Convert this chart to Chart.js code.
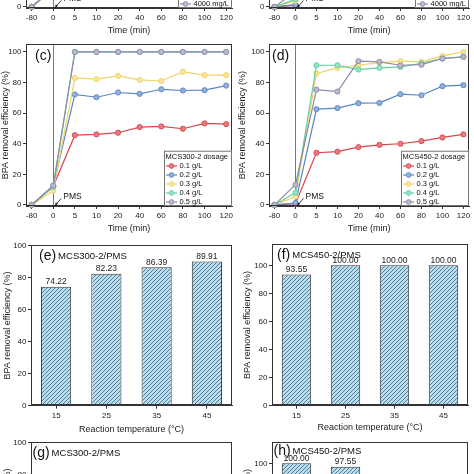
<!DOCTYPE html>
<html>
<head>
<meta charset="utf-8">
<script src="https://cdn.jsdelivr.net/npm/chart.js@4.4.1/dist/chart.umd.min.js"></script>
<style>
  html, body { margin: 0; padding: 0; background: #fff; overflow: hidden; }
  .panel { position: absolute; }
</style>
</head>
<body>
<div class="panel" style="left:0;top:-160.3px;width:237px;height:196px"><canvas id="chartA"></canvas></div>
<div class="panel" style="left:237px;top:-160.3px;width:237px;height:196px"><canvas id="chartB"></canvas></div>
<div class="panel" style="left:0;top:38px;width:237px;height:196px"><canvas id="chartC"></canvas></div>
<div class="panel" style="left:237px;top:38px;width:237px;height:196px"><canvas id="chartD"></canvas></div>
<div class="panel" style="left:0;top:239px;width:237px;height:196px"><canvas id="chartE"></canvas></div>
<div class="panel" style="left:237px;top:238px;width:237px;height:195px"><canvas id="chartF"></canvas></div>
<div class="panel" style="left:0;top:436px;width:237px;height:196px"><canvas id="chartG"></canvas></div>
<div class="panel" style="left:237px;top:436px;width:237px;height:195px"><canvas id="chartH"></canvas></div>
<script>
// ---- data ----
const timeLabels = ['-80', '0', '5', '10', '20', '40', '60', '80', '100', '120'];
const dosageLabels = ['0.1 g/L', '0.2 g/L', '0.3 g/L', '0.4 g/L', '0.5 g/L'];
const concLabels = ['500 mg/L', '1000 mg/L', '2000 mg/L', '3000 mg/L', '4000 mg/L'];
const yTicks = [0, 20, 40, 60, 80, 100];

// (a), (b): only the first two points are inside the picture
const a1 = [0, 11.8], a2 = [0, 12.0], a3 = [0, 11.5], a4 = [0, 12.2], a5 = [0, 12.4];
const b1 = [0, 1.0], b2 = [0, 1.5], b3 = [0, 4.0], b4 = [0, 5.0], b5 = [0, 10.0];

// (c) MCS300-2 dosage
const c01 = [0, 12.2, 45.6, 46.1, 47.2, 50.9, 51.3, 49.8, 53.3, 52.8];
const c02 = [0, 12.5, 72.2, 70.4, 73.5, 72.6, 75.6, 74.8, 75.0, 78.0];
const c03 = [0, 9.3, 83.0, 82.2, 84.3, 81.7, 81.0, 87.0, 84.8, 84.8];
const c04 = [0, 11.8, 100, 100, 100, 100, 100, 100, 100, 100];
const c05 = [0, 12.6, 100, 100, 100, 100, 100, 100, 100, 100];

// (d) MCS450-2 dosage
const d01 = [0, 0.8, 34.1, 34.8, 37.8, 39.3, 40.0, 41.7, 44.1, 46.1];
const d02 = [0, 1.2, 62.6, 63.3, 66.5, 66.7, 72.4, 71.7, 77.6, 78.3];
const d03 = [0, 5.5, 85.9, 89.6, 91.3, 93.0, 94.0, 93.5, 97.4, 100];
const d04 = [0, 8.0, 91.3, 91.3, 88.5, 89.6, 90.2, 92.6, 95.7, 97.0];
const d05 = [0, 13.2, 75.4, 74.1, 94.0, 93.5, 91.3, 91.7, 95.7, 96.7];

// (e)-(h) bars
const tempLabels = ['15', '25', '35', '45'];
const eVals = [74.22, 82.23, 86.39, 89.91];
const fVals = [93.55, 100.00, 100.00, 100.00];
const phLabels = ['3', '5', '7', '9'];
const gVals = [70.14, 72.85, 66.52, 58.30];
const hVals = [100.00, 97.55, 85.40, 79.12];

// ---- styles ----
const FONT = '"Liberation Sans", Arial, sans-serif';
Chart.defaults.font.family = FONT;
Chart.defaults.color = '#222';
const lineColors = ['#d8464d', '#5a86c0', '#f0d466', '#5fcf9f', '#8e8aa8'];
const pointFills = ['#e87a80', '#8fb0da', '#f6e59a', '#97e2c3', '#bcb9cf'];
const tickFont = { size: 8 };
const titleFont = { size: 9 };

function hatch() {
    const c = document.createElement('canvas');
    c.width = 4; c.height = 4;
    const g = c.getContext('2d');
    g.fillStyle = '#b9def0';
    g.fillRect(0, 0, 4, 4);
    g.strokeStyle = '#3a5f82';
    g.lineWidth = 0.8;
    g.beginPath();
    g.moveTo(-1, 5); g.lineTo(5, -1);
    g.moveTo(-1, 1); g.lineTo(1, -1);
    g.moveTo(3, 5); g.lineTo(5, 3);
    g.stroke();
    return g.createPattern(c, 'repeat');
}

// ---- plugins ----
const framePlugin = {
    id: 'frame',
    afterDatasetsDraw(chart) {
        const { ctx, chartArea: a } = chart;
        ctx.save();
        ctx.strokeStyle = '#333';
        ctx.lineWidth = 1;
        ctx.strokeRect(Math.round(a.left) + 0.5, Math.round(a.top) + 0.5,
            Math.round(a.right - a.left) - 1, Math.round(a.bottom - a.top) - 1);
        ctx.restore();
    }
};

const zeroLine = {
    id: 'zeroLine',
    beforeDatasetsDraw(chart) {
        const { ctx, chartArea: a, scales } = chart;
        const x = Math.round(scales.x.getPixelForValue(1)) + 0.5;
        ctx.save();
        ctx.strokeStyle = '#7a7a7a';
        ctx.lineWidth = 1;
        ctx.beginPath();
        ctx.moveTo(x, a.top);
        ctx.lineTo(x, a.bottom);
        ctx.stroke();
        ctx.restore();
    }
};

const pmsNote = {
    id: 'pmsNote',
    afterDatasetsDraw(chart) {
        const { ctx, scales } = chart;
        const tx = scales.x.getPixelForValue(1) + 2;
        const ty = scales.y.getPixelForValue(0) + 0.5;
        ctx.save();
        ctx.strokeStyle = '#111';
        ctx.fillStyle = '#111';
        ctx.lineWidth = 0.8;
        ctx.beginPath();
        ctx.moveTo(tx + 6, ty - 7);
        ctx.lineTo(tx, ty);
        ctx.stroke();
        ctx.beginPath();
        ctx.moveTo(tx, ty);
        ctx.lineTo(tx + 0.5, ty - 3.2);
        ctx.lineTo(tx + 2.6, ty - 1.4);
        ctx.closePath();
        ctx.fill();
        ctx.font = '8.5px ' + FONT;
        ctx.textBaseline = 'middle';
        ctx.fillText('PMS', tx + 8, ty - 9);
        ctx.restore();
    }
};

const legendBox = {
    id: 'legendBox',
    afterDatasetsDraw(chart, args, o) {
        const { ctx, chartArea: a } = chart;
        const ds = chart.data.datasets;
        ctx.save();
        ctx.font = '7.5px ' + FONT;
        let tw = o.title ? ctx.measureText(o.title).width + 3 : 0;
        ds.forEach(d => { tw = Math.max(tw, ctx.measureText(d.label).width + 17); });
        const w = Math.round(tw + 2);
        const lastY = a.bottom - 4;
        const firstY = lastY - 9 * (ds.length - 1);
        const top = (o.title ? firstY - 9.3 : firstY) - 6;
        const x0 = a.right - w;
        ctx.fillStyle = '#fff';
        ctx.fillRect(x0, top, w, a.bottom - top);
        ctx.strokeStyle = '#555';
        ctx.lineWidth = 0.8;
        ctx.strokeRect(x0 + 0.5, top + 0.5, w - 1, a.bottom - top - 1);
        ctx.textBaseline = 'middle';
        ctx.fillStyle = '#111';
        if (o.title) ctx.fillText(o.title, x0 + 1.5, firstY - 9.3);
        ds.forEach((d, i) => {
            const y = firstY + 9 * i;
            ctx.strokeStyle = d.borderColor;
            ctx.lineWidth = 1.2;
            ctx.beginPath();
            ctx.moveTo(x0 + 2, y); ctx.lineTo(x0 + 13, y);
            ctx.stroke();
            ctx.beginPath();
            ctx.arc(x0 + 7.5, y, 2.4, 0, Math.PI * 2);
            ctx.fillStyle = d.pointBackgroundColor;
            ctx.fill();
            ctx.lineWidth = 0.8;
            ctx.stroke();
            ctx.fillStyle = '#111';
            ctx.fillText(d.label, x0 + 15.5, y);
        });
        ctx.restore();
    }
};

const panelTag = {
    id: 'panelTag',
    afterDatasetsDraw(chart, args, o) {
        const { ctx, chartArea: a } = chart;
        ctx.save();
        ctx.fillStyle = '#111';
        ctx.textBaseline = 'middle';
        ctx.font = '14px ' + FONT;
        const x = a.left + o.dx, y = a.top + o.dy;
        ctx.fillText(o.tag, x, y);
        if (o.text) {
            const w = ctx.measureText(o.tag).width;
            ctx.font = '9.5px ' + FONT;
            ctx.fillText(o.text, x + w + 2, y + 0.5);
        }
        ctx.restore();
    }
};

const valueLabels = {
    id: 'valueLabels',
    afterDatasetsDraw(chart) {
        const { ctx } = chart;
        const meta = chart.getDatasetMeta(0);
        const vals = chart.data.datasets[0].data;
        ctx.save();
        ctx.font = '8.5px ' + FONT;
        ctx.fillStyle = '#222';
        ctx.textAlign = 'center';
        ctx.textBaseline = 'bottom';
        meta.data.forEach((bar, i) => ctx.fillText(vals[i].toFixed(2), bar.x, bar.y - 0.5));
        ctx.restore();
    }
};

// ---- axes ----
function yAxis(min, max, width, titlePad) {
    return {
        min: min, max: max,
        afterBuildTicks: s => { s.ticks = yTicks.map(v => ({ value: v })); },
        afterFit: s => { s.width = width; },
        ticks: { font: tickFont, padding: 1.5, color: '#222' },
        grid: { drawOnChartArea: false, tickLength: 3, tickColor: '#333' },
        border: { color: '#333', width: 1 },
        title: { display: true, text: 'BPA removal efficiency (%)', font: titleFont, color: '#222',
                 padding: { top: titlePad, bottom: 0 } }
    };
}

function linePanel(id, series, o) {
    return new Chart(document.getElementById(id), {
        type: 'line',
        data: {
            datasets: series.map((vals, i) => ({
                label: o.labels[i],
                data: vals.map((v, j) => ({ x: j, y: v })),
                borderColor: lineColors[i],
                backgroundColor: pointFills[i],
                pointBackgroundColor: pointFills[i],
                pointBorderColor: lineColors[i],
                pointRadius: 2.6,
                pointBorderWidth: 0.9,
                borderWidth: 1.2,
                order: series.length - i,
                clip: 5
            }))
        },
        options: {
            responsive: true,
            maintainAspectRatio: false,
            animation: false,
            layout: { padding: { top: 6, right: o.right, left: 0, bottom: 0 } },
            plugins: {
                legend: { display: false },
                tooltip: { enabled: false },
                legendBox: { title: o.legendTitle },
                panelTag: { tag: o.tag, dx: o.tagDx, dy: 12 }
            },
            scales: {
                x: {
                    type: 'linear', min: -0.26, max: 9.27,
                    afterBuildTicks: s => { s.ticks = timeLabels.map((t, i) => ({ value: i })); },
                    afterFit: s => { s.height = o.xh; },
                    ticks: { callback: v => timeLabels[v], font: tickFont, padding: 2, autoSkip: false, maxRotation: 0, color: '#222' },
                    grid: { drawOnChartArea: false, tickLength: 3, tickColor: '#333' },
                    border: { color: '#333', width: 1 },
                    title: { display: true, text: 'Time (min)', font: titleFont, color: '#222', padding: 0 }
                },
                y: yAxis(-0.7, 105, o.yw, o.titlePad)
            }
        },
        plugins: o.tag ? [zeroLine, framePlugin, pmsNote, legendBox, panelTag]
                       : [zeroLine, framePlugin, pmsNote, legendBox]
    });
}

function barPanel(id, cats, vals, o) {
    return new Chart(document.getElementById(id), {
        type: 'bar',
        data: {
            labels: cats,
            datasets: [{
                data: vals,
                backgroundColor: hatch(),
                borderColor: '#333',
                borderWidth: 1,
                barPercentage: 0.6,
                categoryPercentage: 1
            }]
        },
        options: {
            responsive: true,
            maintainAspectRatio: false,
            animation: false,
            layout: { padding: { top: 6, right: o.right, left: 0, bottom: 0 } },
            plugins: {
                legend: { display: false },
                tooltip: { enabled: false },
                panelTag: { tag: o.tag, text: o.text, dx: o.tagDx, dy: o.tagDy }
            },
            scales: {
                x: {
                    afterFit: s => { s.height = o.xh; },
                    ticks: { font: tickFont, padding: 2, color: '#222' },
                    grid: { drawOnChartArea: false, offset: false, tickLength: 3, tickColor: '#333' },
                    border: { color: '#333', width: 1 },
                    title: { display: true, text: o.xTitle, font: titleFont, color: '#222', padding: 0 }
                },
                y: yAxis(0, o.ymax, o.yw, o.titlePad)
            }
        },
        plugins: [framePlugin, valueLabels, panelTag]
    });
}

// ---- panels ----
linePanel('chartA', [a1, a2, a3, a4, a5],
    { labels: concLabels, legendTitle: null, right: 5, yw: 26, xh: 28, titlePad: 0 });
linePanel('chartB', [b1, b2, b3, b4, b5],
    { labels: concLabels, legendTitle: null, right: 0, yw: 32, xh: 28, titlePad: 0.4 });
linePanel('chartC', [c01, c02, c03, c04, c05],
    { labels: dosageLabels, legendTitle: 'MCS300-2 dosage', tag: '(c)', tagDx: 9, right: 5, yw: 26, xh: 28, titlePad: 0 });
linePanel('chartD', [d01, d02, d03, d04, d05],
    { labels: dosageLabels, legendTitle: 'MCS450-2 dosage', tag: '(d)', tagDx: 3, right: 0, yw: 32, xh: 28, titlePad: 0.4 });

barPanel('chartE', tempLabels, eVals,
    { tag: '(e)', text: 'MCS300-2/PMS', tagDx: 8, tagDy: 11, xTitle: 'Reaction temperature (°C)', ymax: 100, right: 5, yw: 31, xh: 29.3, titlePad: 2 });
barPanel('chartF', tempLabels, fVals,
    { tag: '(f)', text: 'MCS450-2/PMS', tagDx: 5, tagDy: 11, xTitle: 'Reaction temperature (°C)', ymax: 115, right: 6, yw: 35, xh: 27.3, titlePad: 5.4 });
barPanel('chartG', phLabels, gVals,
    { tag: '(g)', text: 'MCS300-2/PMS', tagDx: 1.5, tagDy: 11, xTitle: 'Initial pH', ymax: 100, right: 5, yw: 31, xh: 29.3, titlePad: 2 });
barPanel('chartH', phLabels, hVals,
    { tag: '(h)', text: 'MCS450-2/PMS', tagDx: 1.5, tagDy: 9, xTitle: 'Initial pH', ymax: 115, right: 6, yw: 35, xh: 27.3, titlePad: 5.4 });
</script>
</body>
</html>
